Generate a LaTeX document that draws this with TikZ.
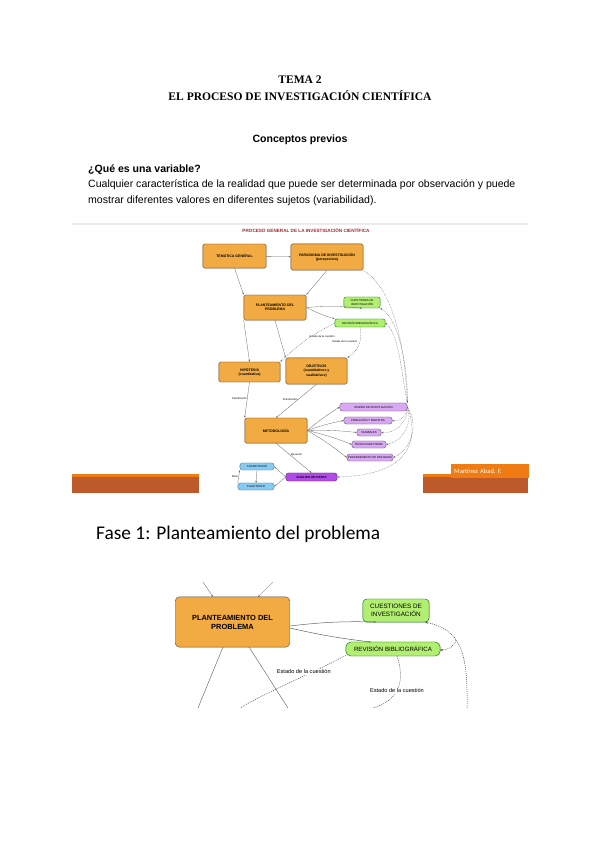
\documentclass[tikz,border=0pt]{standalone}
\usepackage{fontspec}
\setmainfont{Liberation Serif}
\newfontfamily\arial{Liberation Sans}
\newfontfamily\calibri{Carlito}
\usetikzlibrary{arrows.meta}
\definecolor{naranja}{HTML}{F2AA42}
\definecolor{verde}{HTML}{B2EE72}
\definecolor{lila}{HTML}{D9A8F2}
\definecolor{morado}{HTML}{B04BE8}
\definecolor{celeste}{HTML}{86CCF2}
\definecolor{rojizo}{HTML}{A8282C}
\definecolor{ladrillo}{HTML}{BD5A2C}
\definecolor{naranjaf}{HTML}{EE7C12}
\tikzset{
	obox/.style={draw=black!55!brown, fill=naranja, rounded corners=1.5, inner sep=0, align=center, font=\arial\bfseries\fontsize{3.5}{4.2}\selectfont},
	gbox/.style={draw=black!45!green, fill=verde, rounded corners=2, inner sep=0, align=center, font=\arial\fontsize{2.8}{3.3}\selectfont},
	pbox/.style={draw=black!50!lila, fill=lila, rounded corners=2.5, inner sep=0, align=center, font=\arial\fontsize{2.8}{3.3}\selectfont},
	bbox/.style={draw=black!40!celeste, fill=celeste, rounded corners=2.5, inner sep=0, align=center, font=\arial\fontsize{2.8}{3.3}\selectfont},
	flecha/.style={draw=black!60, line width=0.3, -{Stealth[length=2.2pt,width=1.6pt]}},
	punteada/.style={flecha, dash pattern=on 0.8pt off 0.8pt},
	punteadados/.style={draw=black!70, line width=0.5, dash pattern=on 1pt off 1pt},
	etiq/.style={font=\arial\fontsize{2.6}{3}\selectfont, inner sep=0.5},
	etiqdos/.style={font=\arial\fontsize{5.6}{6}\selectfont, inner sep=1, fill=white},
}
\begin{document}
\begin{tikzpicture}[x=0.035cm, y=-0.035cm]
	%%%%% START %%%%%
	\useasboundingbox[fill=white] (0,0) rectangle (600,848);
	
	\node[font=\bfseries\fontsize{11.5}{13}\selectfont] (tema) at (300,80) {TEMA 2};
	\node[font=\bfseries\fontsize{11.5}{13}\selectfont] (titulo) at (300,96) {EL PROCESO DE INVESTIGACIÓN CIENTÍFICA};
	\node[font=\arial\bfseries\fontsize{10.5}{12}\selectfont] (previos) at (300,140) {Conceptos previos};
	\node[anchor=west, inner sep=0, font=\arial\bfseries\fontsize{10.5}{12}\selectfont] (pregunta) at (88,170) {¿Qué es una variable?};
	\node[anchor=west, inner sep=0, font=\arial\fontsize{10.5}{12}\selectfont] (linea1) at (88,185) {Cualquier característica de la realidad que puede ser determinada por observación y puede};
	\node[anchor=west, inner sep=0, font=\arial\fontsize{10.5}{12}\selectfont] (linea2) at (88,201) {mostrar diferentes valores en diferentes sujetos (variabilidad).};
	
	% diapositiva
	\draw[black!8, line width=1] (72,224) -- (528,224);
	\node[text=rojizo, font=\arial\bfseries\fontsize{4.6}{5}\selectfont] (cabecera) at (306,230) {PROCESO GENERAL DE LA INVESTIGACIÓN CIENTÍFICA};
	
	\node[obox, minimum width=63, minimum height=24] (tem) at (234.5,256) {TEMÁTICA GENERAL};
	\node[obox, minimum width=72, minimum height=26] (par) at (327,257) {PARADIGMA DE INVESTIGACIÓN\\(perspectiva)};
	\node[obox, minimum width=62, minimum height=25] (plan) at (275,307.5) {PLANTEAMIENTO DEL\\PROBLEMA};
	\node[gbox, minimum width=36, minimum height=11] (cue) at (362,302.5) {CUESTIONES DE\\INVESTIGACIÓN};
	\node[gbox, minimum width=50, minimum height=8] (rev) at (360,323) {REVISIÓN BIBLIOGRÁFICA};
	\node[obox, minimum width=61, minimum height=20] (hip) at (249.5,372) {HIPÓTESIS\\(cuantitativa)};
	\node[obox, minimum width=61, minimum height=26] (obj) at (316.5,371) {OBJETIVOS\\(cuantitativos y\\cualitativos)};
	\node[obox, minimum width=62, minimum height=25] (met) at (276,430.5) {METODOLOGÍA};
	\node[pbox, minimum width=67, minimum height=8] (dis) at (373.5,407) {DISEÑO DE INVESTIGACIÓN};
	\node[pbox, minimum width=48, minimum height=7] (pob) at (368,420.5) {POBLACIÓN Y MUESTRA};
	\node[pbox, minimum width=24, minimum height=7] (var) at (369,432.5) {VARIABLES};
	\node[pbox, minimum width=34, minimum height=7] (tec) at (369,444.5) {TÉCNICAS/INSTRUM.};
	\node[pbox, minimum width=46, minimum height=7] (pro) at (370,457.5) {PROCEDIMIENTO DE RECOGIDA};
	\node[pbox, fill=morado, draw=black!50!morado, minimum width=51, minimum height=8, font=\arial\bfseries\fontsize{3}{3.5}\selectfont] (ana) at (311.5,477) {ANÁLISIS DE DATOS};
	\node[bbox, minimum width=34, minimum height=7] (cuan) at (257,466.5) {CUANTITATIVO};
	\node[bbox, minimum width=36, minimum height=7] (cual) at (256,486.5) {CUALITATIVO};
	
	\draw[flecha] (tem) -- (par);
	\draw[flecha] (tem.south) -- (plan.north west);
	\draw[flecha] (par.south) -- (plan.north east);
	\draw[flecha] (plan.east) to[bend left=5] (cue.south);
	\draw[flecha] (plan.east) to[bend left=-5] (rev.north west);
	\draw[flecha] (plan.south west) -- (hip.north);
	\draw[flecha] (plan.south) -- (obj.north west);
	\draw[punteada] (rev.west) to[bend right=8] node[etiq, pos=0.45, above right=0.5] {Estado de la cuestión} (hip.north east);
	\draw[punteada] (rev.south) to[bend left=35] node[etiq, pos=0.4, left=2] {Estado de la cuestión} (obj.north east);
	\draw[punteada] (par.south east) .. controls (395,290) and (405,350) .. (dis.north east);
	\draw[punteada] (dis.north east) .. controls (408,370) and (400,320) .. (cue.south east);
	\draw[punteada] (dis.north east) .. controls (402,380) and (400,335) .. (rev.east);
	\draw[flecha] (hip.south) -- node[etiq, pos=0.45, left] {Planificación} (met.north west);
	\draw[flecha] (obj.south) -- node[etiq, pos=0.45, left] {Planificación} (met.north);
	\foreach \destino in {dis,pob,var,tec,pro}
		\draw[flecha] (met.east) to[bend left=4] (\destino.west);
	\foreach \destino in {pob,var,tec,pro}
		\draw[punteada] (dis.east) to[bend left=50] (\destino.east);
	\draw[punteada] (dis.east) .. controls (420,440) and (410,475) .. (ana.east);
	\draw[flecha] (met.south) -- node[etiq, pos=0.4, right] {Ejecución} (ana.north);
	\draw[flecha] (ana.west) -- (cuan.east);
	\draw[flecha] (ana.west) -- (cual.east);
	\draw[flecha] (cual.north west) -- node[etiq, left] {Mixto} (cuan.south west);
	\draw[flecha] (cuan.south) -- (cual.north);
	
	% franjas inferiores
	\fill[ladrillo] (72,477) rectangle (199,493);
	\fill[naranjaf] (72,474) rectangle (199,476.5);
	\fill[ladrillo] (423,477) rectangle (528,493);
	\fill[naranjaf] (423,474) rectangle (528,476.5);
	\node[fill=naranjaf, text=white, anchor=north west, minimum width=77, minimum height=14, inner sep=2, font=\calibri\fontsize{6.5}{7}\selectfont, align=left, text width=71] (autor) at (451,464) {Martínez Abad, F.};
	
	% fase 1
	\node[anchor=west, inner sep=0, font=\calibri\fontsize{19.3}{21}\selectfont] (fase) at (96,534) {Fase 1: Planteamiento del problema};
	
	\node[obox, minimum width=114, minimum height=50, rounded corners=4, draw=black!70, font=\arial\bfseries\fontsize{7.4}{9}\selectfont] (plandos) at (232.5,622) {PLANTEAMIENTO DEL\\PROBLEMA};
	\node[gbox, minimum width=66, minimum height=23, rounded corners=4, draw=black!60!green, font=\arial\fontsize{6.3}{8}\selectfont] (cuedos) at (396,610.5) {CUESTIONES DE\\INVESTIGACIÓN};
	\node[gbox, minimum width=94, minimum height=14, rounded corners=5, draw=black!60!green, font=\arial\fontsize{6.1}{7}\selectfont] (revdos) at (393,649) {REVISIÓN BIBLIOGRÁFICA};
	
	\coordinate (entraA) at (203,582);
	\coordinate (entraB) at (273,582);
	\coordinate (salA) at (198,708);
	\coordinate (salB) at (288,708);
	\coordinate (salC) at (240,708);
	\coordinate (salD) at (373,708);
	\coordinate (salE) at (467,708);
	\draw[flecha] (entraA) -- (213,597);
	\draw[flecha] (entraB) -- (258,597);
	\draw[draw=black!60, line width=0.45] (223,647) -- (salA);
	\draw[draw=black!60, line width=0.45] (249,647) -- (salB);
	\draw[flecha, line width=0.5] (plandos.east) ++(0,4) to[bend left=4] (376,622);
	\draw[flecha, line width=0.5] (plandos.east) ++(0,6) to[bend left=-3] (371,642);
	\draw[punteadados] (346,655) .. controls (320,670) and (270,690) .. node[etiqdos, pos=0.42, above=1] {Estado de la cuestión} (salC);
	\draw[punteadados] (397,656) .. controls (405,680) and (400,700) .. node[etiqdos, pos=0.55] {Estado de la cuestión} (salD);
	\draw[punteadados, -{Stealth[length=3pt,width=2.4pt]}] (salE) .. controls (468,650) and (460,630) .. (425,622);
	\draw[punteadados, -{Stealth[length=3pt,width=2.4pt]}] (456,640) .. controls (454,647) and (448,650) .. (440,650);
	%%%%% END %%%%%
\end{tikzpicture}
\end{document}
